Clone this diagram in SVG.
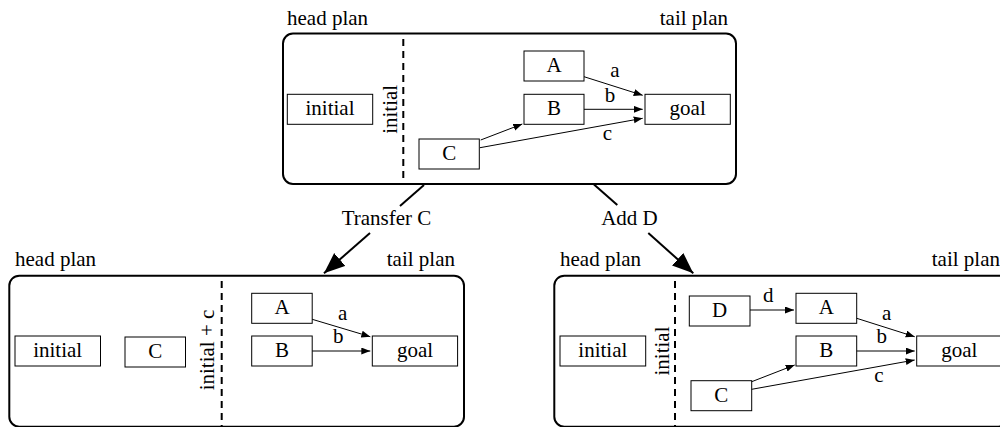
<svg xmlns="http://www.w3.org/2000/svg" width="1000" height="427" viewBox="0 0 1000 427" font-family="'Liberation Serif', 'Times New Roman', Tinos, 'DejaVu Serif', serif">
<style>
text{font-size:21px;fill:#000}
.c{text-anchor:middle}
.e{text-anchor:end}
.panel{fill:none;stroke:#000;stroke-width:2}
.box{fill:#fff;stroke:#000;stroke-width:1}
.dash{stroke:#000;stroke-width:2;stroke-dasharray:7 5;fill:none}
.edge{stroke:#000;stroke-width:1;fill:none;marker-end:url(#sa)}
.big{stroke:#000;stroke-width:2;fill:none}
.bigh{stroke:#000;stroke-width:2;fill:none;marker-end:url(#ba)}
</style>
<defs>
<marker id="sa" markerUnits="userSpaceOnUse" markerWidth="10" markerHeight="8" refX="9" refY="3.5" orient="auto"><path d="M0,0 L9,3.5 L0,7 z" fill="#000"/></marker>
<marker id="ba" markerUnits="userSpaceOnUse" markerWidth="22" markerHeight="18" refX="21" refY="8.5" orient="auto"><path d="M0,0 L21,8.5 L0,17 z" fill="#000"/></marker>
</defs>
<rect width="1000" height="427" fill="#fff"/>

<g id="panel-top">
<rect class="panel" x="283" y="33.5" width="453" height="150.5" rx="10"/>
<text x="287" y="25">head plan</text>
<text class="e" x="728" y="25">tail plan</text>
<line class="dash" x1="403.3" y1="39" x2="403.3" y2="184"/>
<text class="c" transform="translate(397.3,109.3) rotate(-90)">initial</text>
</g>
<g id="top-initial"><rect class="box" x="287.3" y="94.3" width="85.4" height="30"/><text class="c" x="330" y="115.3">initial</text></g>
<g id="top-A"><rect class="box" x="524" y="51" width="60" height="30"/><text class="c" x="554" y="72">A</text></g>
<g id="top-B"><rect class="box" x="524" y="94.3" width="60" height="30"/><text class="c" x="554" y="115.3">B</text></g>
<g id="top-goal"><rect class="box" x="645" y="94.3" width="85.3" height="30"/><text class="c" x="687.7" y="115.3">goal</text></g>
<g id="top-C"><rect class="box" x="419" y="139" width="60.3" height="30"/><text class="c" x="449.2" y="160">C</text></g>

<g id="panel-left">
<rect class="panel" x="9.3" y="275.7" width="454.7" height="151" rx="10"/>
<text x="15" y="266">head plan</text>
<text class="e" x="455" y="266">tail plan</text>
<line class="dash" x1="221.7" y1="281" x2="221.7" y2="427"/>
<text class="c" transform="translate(214,350) rotate(-90)">initial + c</text>
</g>
<g id="left-initial"><rect class="box" x="15" y="336" width="85.5" height="30"/><text class="c" x="57.7" y="357">initial</text></g>
<g id="left-C"><rect class="box" x="125" y="337" width="60.5" height="30"/><text class="c" x="155.3" y="358">C</text></g>
<g id="left-A"><rect class="box" x="251.7" y="293.3" width="60.5" height="30"/><text class="c" x="282" y="314.3">A</text></g>
<g id="left-B"><rect class="box" x="251.7" y="336" width="60.5" height="30"/><text class="c" x="282" y="357">B</text></g>
<g id="left-goal"><rect class="box" x="372.3" y="336" width="85.3" height="30"/><text class="c" x="415" y="357">goal</text></g>

<g id="panel-right">
<rect class="panel" x="554.3" y="275.7" width="454" height="151" rx="10"/>
<text x="560" y="266">head plan</text>
<text class="e" x="1000" y="266">tail plan</text>
<line class="dash" x1="675" y1="281" x2="675" y2="427"/>
<text class="c" transform="translate(669,351) rotate(-90)">initial</text>
</g>
<g id="right-initial"><rect class="box" x="560" y="336" width="85.7" height="30"/><text class="c" x="602.8" y="357">initial</text></g>
<g id="right-D"><rect class="box" x="689.3" y="296" width="60.7" height="30"/><text class="c" x="719.7" y="317">D</text></g>
<g id="right-A"><rect class="box" x="796" y="293.3" width="60.7" height="30"/><text class="c" x="826.3" y="314.3">A</text></g>
<g id="right-B"><rect class="box" x="796" y="336" width="60.7" height="30"/><text class="c" x="826.3" y="357">B</text></g>
<g id="right-goal"><rect class="box" x="916.7" y="336" width="85.3" height="30"/><text class="c" x="959.3" y="357">goal</text></g>
<g id="right-C"><rect class="box" x="691" y="380.7" width="60.7" height="30"/><text class="c" x="721.3" y="401.7">C</text></g>

<g id="connectors">
<line class="edge" x1="584" y1="76.7" x2="642.7" y2="95.3"/>
<line class="edge" x1="584" y1="109.3" x2="642.7" y2="109.3"/>
<line class="edge" x1="480.7" y1="140" x2="522.3" y2="124"/>
<line class="edge" x1="480" y1="147.7" x2="642.7" y2="118.3"/>
<text class="c" x="615" y="77.3">a</text>
<text class="c" x="610" y="101.7">b</text>
<text class="c" x="607.3" y="140">c</text>

<line class="edge" x1="312.2" y1="319.3" x2="370.3" y2="336.7"/>
<line class="edge" x1="312.2" y1="351" x2="370.3" y2="351"/>
<text class="c" x="342.7" y="320">a</text>
<text class="c" x="338.3" y="343.3">b</text>

<line class="edge" x1="750" y1="310" x2="794" y2="310"/>
<line class="edge" x1="856.7" y1="318.3" x2="914.7" y2="336.7"/>
<line class="edge" x1="856.7" y1="351" x2="914.7" y2="351"/>
<line class="edge" x1="751.7" y1="381.7" x2="794.7" y2="365"/>
<line class="edge" x1="751.7" y1="389.3" x2="914.7" y2="360"/>
<text class="c" x="768.3" y="301.7">d</text>
<text class="c" x="886.7" y="320">a</text>
<text class="c" x="881.7" y="343.3">b</text>
<text class="c" x="879" y="381.7">c</text>

<line class="big" x1="424" y1="185" x2="400" y2="206"/>
<line class="bigh" x1="370" y1="233" x2="324" y2="273.3"/>
<text class="c" x="386.5" y="225">Transfer C</text>
<line class="big" x1="594" y1="184.5" x2="617.3" y2="205"/>
<line class="bigh" x1="648.3" y1="233" x2="693.3" y2="273.3"/>
<text class="c" x="629.5" y="225">Add D</text>
</g>
</svg>
